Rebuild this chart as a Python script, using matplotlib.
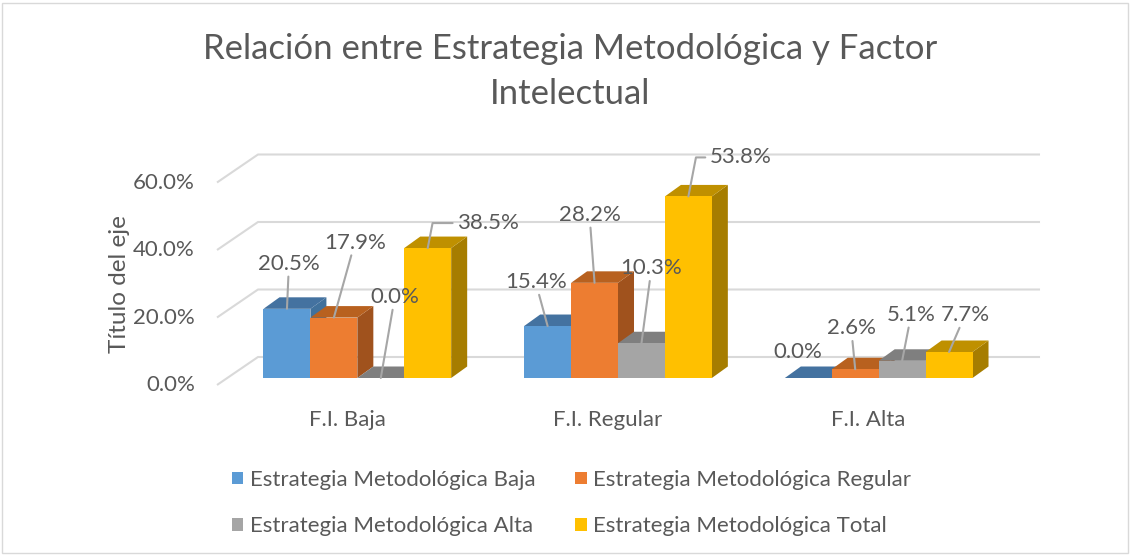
import matplotlib
matplotlib.use('Agg')
import matplotlib.pyplot as plt
from matplotlib.patches import Polygon, Patch, Rectangle

plt.rcParams['font.family'] = ['Lato', 'DejaVu Sans']

# data (fractions)
categories = ['F.I. Baja', 'F.I. Regular', 'F.I. Alta']
series = ['Estrategia Metodológica Baja', 'Estrategia Metodológica Regular',
          'Estrategia Metodológica Alta', 'Estrategia Metodológica Total']
em_baja = [0.205, 0.154, 0.000]
em_regular = [0.179, 0.282, 0.026]
em_alta = [0.000, 0.103, 0.051]
em_total = [0.385, 0.538, 0.077]
yticks = [0.0, 0.2, 0.4, 0.6]
ytick_labels = ['0.0%', '20.0%', '40.0%', '60.0%']

# style
front_cols = ['#5B9BD5', '#ED7D31', '#A5A5A5', '#FFC000']
top_cols = ['#4472A0', '#B8611F', '#7F7F7F', '#BF9000']
side_cols = ['#41719C', '#A0521D', '#737373', '#A67D00']
txt = '#595959'
grid = '#D9D9D9'

# label offsets in pixels (dx right, dy up) from bar top
lab_off = [[(2, 45), (21, 75), (14, 81), (60, 25)],
           [(-12, 44), (-5, 68), (10, 75), (52, 39)],
           [(-10, 26), (-4, 41), (9, 46), (16, 37)]]

W, H = 1131, 556
fig = plt.figure(figsize=(W / 100, H / 100), dpi=100)
ax = fig.add_axes([0, 0, 1, 1])
ax.axis('off')

# pixel geometry of the 3D projection
CW = 260.67      # px per category
X0 = 227         # px, left of bar front plane
Y0 = 378         # px, zero of bar front plane
S = 337.5        # px per 1.0 (100%)
ax.set_xlim(-X0 / CW, (W - X0) / CW)
ax.set_ylim((Y0 - H) / S, Y0 / S)


def px(dx, dy):
    # pixel offset (right, up) -> data offset
    return dx / CW, dy / S


# walls / gridlines
fx, fy = px(-10, -7)     # front edge of floor
bx, by = px(31, 21)      # back wall
for v, lab in zip(yticks, ytick_labels):
    ax.plot([fx, bx, bx + 3], [v + fy, v + by, v + by], color=grid, lw=1.5,
            solid_capstyle='butt', zorder=1)
    ax.text(fx + px(-22, 0)[0], v + fy, lab, ha='right', va='center',
            fontsize=16, color=txt)

for i, c in enumerate(categories):
    ax.text(fx + i + 0.5, fy + px(0, -35)[1], c, ha='center', va='center',
            fontsize=16, color=txt)

# bars
gap = 0.14
bw = (1 - 2 * gap) / 4
ddx, ddy = px(16, 11.5)
values = [em_baja, em_regular, em_alta, em_total]
for i in range(len(categories)):
    for j in range(4):
        v = values[j][i]
        x0 = i + gap + j * bw
        x1 = x0 + bw
        ax.add_patch(Polygon([(x1, 0), (x1 + ddx, ddy), (x1 + ddx, v + ddy), (x1, v)],
                             closed=True, fc=side_cols[j], ec='none', zorder=2))
        ax.add_patch(Polygon([(x0, v), (x1, v), (x1 + ddx, v + ddy), (x0 + ddx, v + ddy)],
                             closed=True, fc=top_cols[j], ec='none', zorder=2))
        if v > 0:
            ax.add_patch(Rectangle((x0, 0), bw, v, fc=front_cols[j], ec='none', zorder=2))
        dx, dy = lab_off[i][j]
        xy = (x0 + bw / 2, v)
        if j == 3 and i < 2:
            ap = dict(arrowstyle='-', color='#A6A6A6', lw=1.5, relpos=(0, 0.5),
                      shrinkA=1, shrinkB=0, connectionstyle='angle,angleA=0,angleB=79,rad=0')
        elif i == 2 and j == 0:
            ap = None
        else:
            ap = dict(arrowstyle='-', color='#A6A6A6', lw=1.5, shrinkA=0, shrinkB=0)
        ax.annotate('{:.1%}'.format(v), xy=xy, xytext=(dx, dy), textcoords='offset pixels',
                    ha='center', va='center', fontsize=16, color=txt,
                    arrowprops=ap, zorder=4)

# y-axis title and chart title
ax.text(px(-107, 0)[0], px(0, Y0 - 284)[1], 'Título del eje', rotation=90,
        ha='center', va='center', fontsize=17.5, color=txt)
fig.text(0.504, 1 - 71.5 / H, 'Relación entre Estrategia Metodológica y Factor\nIntelectual',
         ha='center', va='center', fontsize=25, color=txt, linespacing=1.48)

# legend
handles = [Patch(fc=front_cols[k], ec='none') for k in (0, 2, 1, 3)]
labels = [series[k] for k in (0, 2, 1, 3)]
fig.legend(handles, labels, ncol=2, loc='upper left', bbox_to_anchor=(212 / W, 1 - 450 / H),
           frameon=False, fontsize=16, labelcolor=txt, handlelength=0.5, handleheight=0.5,
           handletextpad=0.3, columnspacing=1.8, labelspacing=1.19)

fig.add_artist(Rectangle((2 / W, 3 / H), 1 - 5 / W, 1 - 6 / H, transform=fig.transFigure,
                         fill=False, ec='#D9D9D9', lw=1))

fig.savefig('out.png', dpi=100)
